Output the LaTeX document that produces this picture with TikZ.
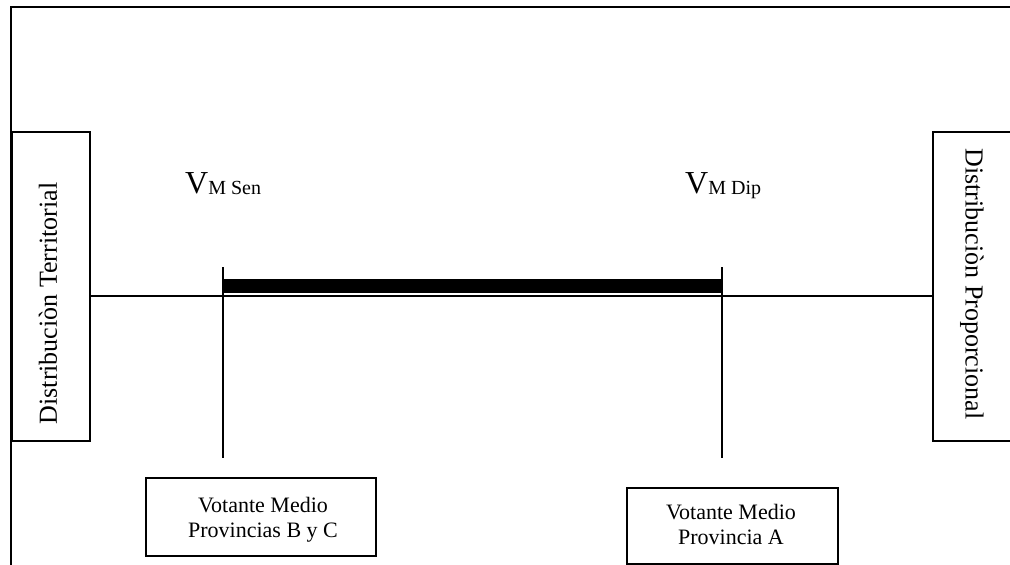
\documentclass[tikz,border=0pt]{standalone}
\usepackage{fontspec}
\setmainfont{Liberation Serif}
\begin{document}
\begin{tikzpicture}[x=1pt,y=-1pt,
  frame/.style={line width=1.8pt},
  boxline/.style={line width=1.2pt},
  sidetext/.style={font=\fontsize{26}{30}\selectfont,inner sep=0pt},
  votebox/.style={font=\fontsize{22}{25}\selectfont,align=center,inner sep=0pt},
  vlabel/.style={anchor=base west,inner sep=0pt}]
\useasboundingbox (0,0) rectangle (1010,565);
% outer frame
\draw[frame] (11,566) -- (11,7) -- (1011,7);
% side boxes
\draw[boxline] (12,132) rectangle (90,441);
\coordinate (lbE) at (90,296);
\node[sidetext,rotate=90] (lt) at (48,303.5) {Distribuciòn Territorial};
\draw[boxline] (1016,132) -- (933,132) -- (933,441) -- (1016,441);
\coordinate (rbW) at (933,296);
\node[sidetext,rotate=-90] (rt) at (972,284) {Distribuciòn Proporcional};
% axis
\draw[boxline] (lbE) -- (rbW);
\fill (223,279) rectangle (722,293);
\coordinate (sTop) at (223,267);
\coordinate (sBot) at (223,458);
\coordinate (dTop) at (722,267);
\coordinate (dBot) at (722,458);
\draw[boxline] (sTop) -- (sBot);
\draw[boxline] (dTop) -- (dBot);
% labels
\node[vlabel] (vsen) at (185,193) {\fontsize{32}{36}\selectfont V\raisebox{-1pt}{\fontsize{20}{24}\selectfont M Sen}};
\node[vlabel] (vdip) at (685,193) {\fontsize{32}{36}\selectfont V\raisebox{-1pt}{\fontsize{20}{24}\selectfont M Dip}};
% bottom boxes
\draw[boxline] (146,478) rectangle (376,556);
\node[votebox] (bc) at (263,520) {Votante Medio\\Provincias B y C};
\draw[boxline] (627,566) -- (627,488) -- (838,488) -- (838,566);
\draw[boxline] (627,564) -- (838,564);
\node[votebox] (pa) at (731,524) {Votante Medio\\ Provincia A};
\end{tikzpicture}
\end{document}
